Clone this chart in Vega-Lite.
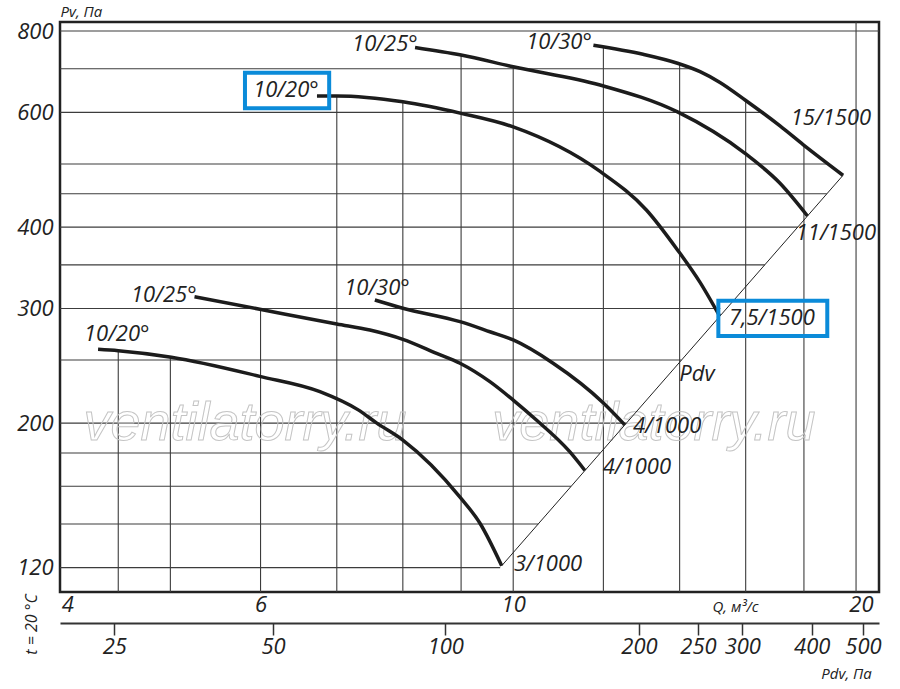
{
  "$schema": "https://vega.github.io/schema/vega-lite/v6.json",
  "width": 819,
  "height": 570,
  "autosize": {"type": "none"},
  "padding": {"left": 60, "top": 22, "right": 21, "bottom": 97},
  "background": "white",
  "datasets": {
    "curves": [
      {"c": "A", "q": 6.725, "pv": 636}, {"c": "A", "q": 7.0, "pv": 636}, {"c": "A", "q": 8.0, "pv": 623},
      {"c": "A", "q": 9.0, "pv": 598}, {"c": "A", "q": 10.0, "pv": 570}, {"c": "A", "q": 11.92, "pv": 487},
      {"c": "A", "q": 13.09, "pv": 425}, {"c": "A", "q": 13.94, "pv": 369}, {"c": "A", "q": 14.59, "pv": 329},
      {"c": "A", "q": 15.18, "pv": 292},
      {"c": "B", "q": 8.2, "pv": 755}, {"c": "B", "q": 9.0, "pv": 735}, {"c": "B", "q": 10.0, "pv": 705},
      {"c": "B", "q": 11.92, "pv": 661}, {"c": "B", "q": 13.94, "pv": 601}, {"c": "B", "q": 15.98, "pv": 519},
      {"c": "B", "q": 17.15, "pv": 467}, {"c": "B", "q": 18.13, "pv": 416},
      {"c": "C", "q": 11.76, "pv": 761}, {"c": "C", "q": 13.0, "pv": 737}, {"c": "C", "q": 13.94, "pv": 714},
      {"c": "C", "q": 14.59, "pv": 693}, {"c": "C", "q": 15.19, "pv": 667}, {"c": "C", "q": 15.98, "pv": 627},
      {"c": "C", "q": 17.15, "pv": 572}, {"c": "C", "q": 17.98, "pv": 535}, {"c": "C", "q": 19.48, "pv": 480.4},
      {"c": "D", "q": 4.32, "pv": 259.7}, {"c": "D", "q": 4.5, "pv": 258.4}, {"c": "D", "q": 5.01, "pv": 252.5},
      {"c": "D", "q": 5.99, "pv": 236}, {"c": "D", "q": 6.765, "pv": 223.6}, {"c": "D", "q": 7.31, "pv": 209.6},
      {"c": "D", "q": 7.59, "pv": 200}, {"c": "D", "q": 8.0, "pv": 188.4}, {"c": "D", "q": 8.98, "pv": 154},
      {"c": "D", "q": 9.35, "pv": 140.4}, {"c": "D", "q": 9.77, "pv": 120.8},
      {"c": "E", "q": 5.25, "pv": 312.7}, {"c": "E", "q": 5.99, "pv": 299.2}, {"c": "E", "q": 7.0, "pv": 284},
      {"c": "E", "q": 7.484, "pv": 278}, {"c": "E", "q": 8.0, "pv": 269}, {"c": "E", "q": 8.565, "pv": 256},
      {"c": "E", "q": 8.98, "pv": 247.2}, {"c": "E", "q": 9.539, "pv": 231.6}, {"c": "E", "q": 10.0, "pv": 217},
      {"c": "E", "q": 10.48, "pv": 202.2}, {"c": "E", "q": 11.21, "pv": 180.8}, {"c": "E", "q": 11.56, "pv": 169.2},
      {"c": "F", "q": 7.56, "pv": 309.1}, {"c": "F", "q": 8.0, "pv": 300.3}, {"c": "F", "q": 8.98, "pv": 286.3},
      {"c": "F", "q": 9.539, "pv": 276.3}, {"c": "F", "q": 10.0, "pv": 268.4}, {"c": "F", "q": 10.84, "pv": 247.2},
      {"c": "F", "q": 12.0, "pv": 214.8}, {"c": "F", "q": 12.53, "pv": 198.8}
    ],
    "grid": [
      {"q": 4, "q2": 20.95, "pv": 800, "pv2": 800},
      {"q": 4, "q2": 14.45, "pv": 700, "pv2": 700},
      {"q": 4, "q2": 16.6, "pv": 600, "pv2": 600},
      {"q": 4, "q2": 18.9, "pv": 500, "pv2": 500},
      {"q": 4, "q2": 18.85, "pv": 450, "pv2": 450},
      {"q": 4, "q2": 17.78, "pv": 400, "pv2": 400},
      {"q": 4, "q2": 16.63, "pv": 350, "pv2": 350},
      {"q": 4, "q2": 15.2, "pv": 300, "pv2": 300},
      {"q": 4, "q2": 14.05, "pv": 250, "pv2": 250},
      {"q": 4, "q2": 12.57, "pv": 200, "pv2": 200},
      {"q": 4, "q2": 11.92, "pv": 180, "pv2": 180},
      {"q": 4, "q2": 11.24, "pv": 160, "pv2": 160},
      {"q": 4, "q2": 10.52, "pv": 140, "pv2": 140},
      {"q": 4, "q2": 9.74, "pv": 120, "pv2": 120},
      {"q": 4.5, "q2": 4.5, "pv": 110.1, "pv2": 258.4},
      {"q": 5, "q2": 5, "pv": 110.1, "pv2": 252.5},
      {"q": 6, "q2": 6, "pv": 110.1, "pv2": 299.2},
      {"q": 7, "q2": 7, "pv": 110.1, "pv2": 636},
      {"q": 8, "q2": 8, "pv": 110.1, "pv2": 623},
      {"q": 9, "q2": 9, "pv": 110.1, "pv2": 735},
      {"q": 10, "q2": 10, "pv": 110.1, "pv2": 705},
      {"q": 12, "q2": 12, "pv": 110.1, "pv2": 757},
      {"q": 14, "q2": 14, "pv": 110.1, "pv2": 712},
      {"q": 16, "q2": 16, "pv": 110.1, "pv2": 626},
      {"q": 18, "q2": 18, "pv": 110.1, "pv2": 535},
      {"q": 20, "q2": 20, "pv": 110.1, "pv2": 826}
    ],
    "pdvline": [
      {"q": 9.77, "pv": 120.8},
      {"q": 19.48, "pv": 480.4}
    ],
    "labels": [
      {"text": "10/25°", "q": 7.715, "pv": 764},
      {"text": "10/30°", "q": 10.97, "pv": 769},
      {"text": "10/20°", "q": 6.316, "pv": 649.4},
      {"text": "15/1500", "q": 19.01, "pv": 589.3},
      {"text": "11/1500", "q": 19.2, "pv": 391.7},
      {"text": "7,5/1500", "q": 16.87, "pv": 290.1},
      {"text": "Pdv", "q": 14.5, "pv": 237.9},
      {"text": "4/1000", "q": 13.65, "pv": 198},
      {"text": "4/1000", "q": 12.84, "pv": 171.3},
      {"text": "3/1000", "q": 10.73, "pv": 121.6},
      {"text": "10/25°", "q": 4.934, "pv": 314.6},
      {"text": "10/20°", "q": 4.486, "pv": 274.1},
      {"text": "10/30°", "q": 7.592, "pv": 322.6}
    ],
    "note": [
      {"text": "t = 20 °C", "q": 3.78, "pv": 98.2}
    ],
    "boxes": [
      {"q": 5.814, "q2": 6.893, "pv": 690.4, "pv2": 608.7},
      {"q": 15.14, "q2": 18.87, "pv": 308.4, "pv2": 272.2}
    ],
    "watermark": [
      {"text": "ventilatorry.ru", "q": 5.814, "pv": 188.5},
      {"text": "ventilatorry.ru", "q": 13.29, "pv": 188.5}
    ],
    "pdv": [
      {"pdv": 25}, {"pdv": 50}, {"pdv": 100}, {"pdv": 200},
      {"pdv": 250}, {"pdv": 300}, {"pdv": 400}, {"pdv": 500}
    ]
  },
  "layer": [
    {
      "encoding": {
        "x": {
          "field": "q",
          "type": "quantitative",
          "scale": {"type": "log", "domain": [4, 20.95], "nice": false},
          "axis": {
            "values": [4.06, 6, 10, 20.2],
            "labelExpr": "format(round(datum.value), 'd')",
            "domain": false,
            "ticks": false,
            "grid": false,
            "labelOverlap": false,
            "labelBound": false,
            "labelFlush": false,
            "labelPadding": 2,
            "labelFontSize": 22,
            "labelFontStyle": "italic",
            "labelColor": "#222",
            "title": "Q, м³/с",
            "titleX": 675,
            "titleY": 14,
            "titleAlign": "center",
            "titleBaseline": "middle",
            "titleFontSize": 15,
            "titleFontWeight": "normal",
            "titleFontStyle": "italic",
            "titleColor": "#222"
          }
        },
        "y": {
          "field": "pv",
          "type": "quantitative",
          "scale": {"type": "log", "domain": [110.1, 826], "nice": false},
          "axis": {
            "values": [120, 200, 300, 400, 600, 800],
            "format": "d",
            "domain": false,
            "ticks": false,
            "grid": false,
            "labelOverlap": false,
            "labelPadding": 7,
            "labelFontSize": 22,
            "labelFontStyle": "italic",
            "labelColor": "#222",
            "title": "Pv, Па",
            "titleAngle": 0,
            "titleX": 0,
            "titleY": -11,
            "titleAlign": "left",
            "titleBaseline": "middle",
            "titleFontSize": 15,
            "titleFontWeight": "normal",
            "titleFontStyle": "italic",
            "titleColor": "#222"
          }
        }
      },
      "layer": [
        {
          "data": {"name": "grid"},
          "mark": {"type": "rule", "color": "#3c3c3c", "strokeWidth": 1.1},
          "encoding": {
            "x2": {"field": "q2"},
            "y2": {"field": "pv2"}
          }
        },
        {
          "data": {"name": "watermark"},
          "mark": {
            "type": "text",
            "font": "Liberation Sans",
            "fontStyle": "italic",
            "fontSize": 54,
            "align": "center",
            "baseline": "alphabetic",
            "fillOpacity": 0,
            "stroke": "#c4c4c4",
            "strokeWidth": 1
          },
          "encoding": {"text": {"field": "text"}}
        },
        {
          "data": {"name": "pdvline"},
          "mark": {"type": "line", "color": "#222", "strokeWidth": 1},
          "encoding": {}
        },
        {
          "data": {"name": "curves"},
          "mark": {"type": "line", "color": "#1c1c1c", "strokeWidth": 3.5, "interpolate": "monotone"},
          "encoding": {"detail": {"field": "c"}}
        },
        {
          "data": {"name": "boxes"},
          "mark": {"type": "rect", "filled": false, "stroke": "#0b8bd9", "strokeWidth": 4},
          "encoding": {
            "x2": {"field": "q2"},
            "y2": {"field": "pv2"}
          }
        },
        {
          "data": {"name": "labels"},
          "mark": {
            "type": "text",
            "fontSize": 22,
            "fontStyle": "italic",
            "align": "center",
            "baseline": "middle",
            "color": "#222"
          },
          "encoding": {"text": {"field": "text"}}
        },
        {
          "data": {"name": "note"},
          "mark": {
            "type": "text",
            "fontSize": 16,
            "fontStyle": "italic",
            "angle": 270,
            "align": "center",
            "baseline": "middle",
            "color": "#222"
          },
          "encoding": {"text": {"field": "text"}}
        }
      ]
    },
    {
      "data": {"name": "pdv"},
      "mark": {"type": "point", "opacity": 0},
      "encoding": {
        "x": {
          "field": "pdv",
          "type": "quantitative",
          "scale": {
            "type": "log",
            "domain": [19.75, 25, 50, 100, 200, 250, 300, 400, 500, 536],
            "range": [0, 54.3, 213, 385.3, 579, 638, 682.3, 751.7, 803, 819],
            "nice": false
          },
          "axis": {
            "orient": "bottom",
            "offset": 31,
            "values": [25, 50, 100, 200, 250, 300, 400, 500],
            "format": "d",
            "domain": true,
            "domainColor": "#333",
            "domainWidth": 2,
            "ticks": true,
            "tickSize": 12,
            "tickWidth": 1.5,
            "tickColor": "#333",
            "grid": false,
            "labelOverlap": false,
            "labelBound": false,
            "labelFlush": false,
            "labelPadding": 1,
            "labelFontSize": 22,
            "labelFontStyle": "italic",
            "labelColor": "#222",
            "title": "Pdv, Па",
            "titleX": 786,
            "titleY": 50,
            "titleAlign": "center",
            "titleBaseline": "middle",
            "titleFontSize": 15,
            "titleFontWeight": "normal",
            "titleFontStyle": "italic",
            "titleColor": "#222"
          }
        }
      }
    }
  ],
  "resolve": {"scale": {"x": "independent"}},
  "config": {
    "font": "Open Sans",
    "view": {"stroke": "#222", "strokeWidth": 2.5}
  }
}
